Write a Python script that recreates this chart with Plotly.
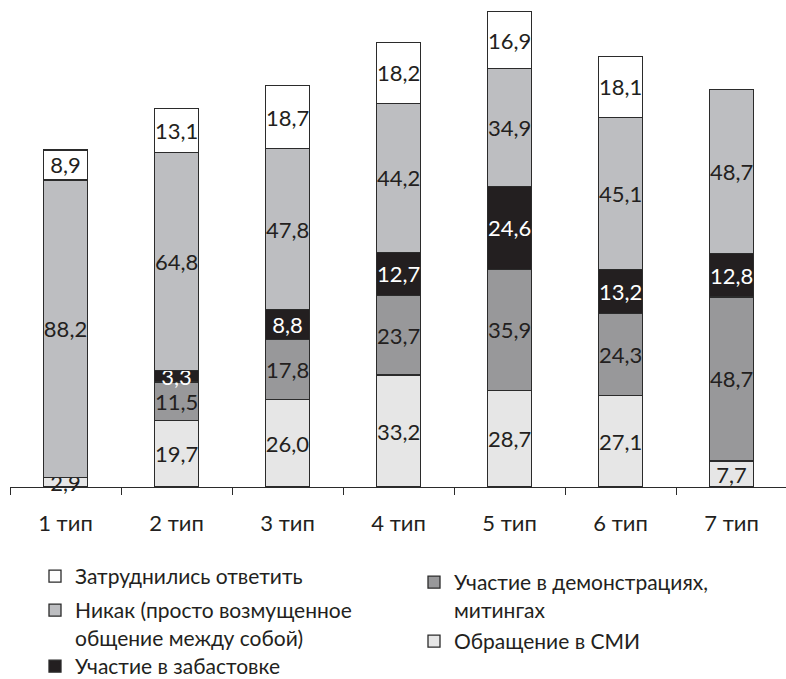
import plotly.graph_objects as go

categories = ["1 тип", "2 тип", "3 тип", "4 тип", "5 тип", "6 тип", "7 тип"]
smi = [2.9, 19.7, 26.0, 33.2, 28.7, 27.1, 7.7]
demo = [None, 11.5, 17.8, 23.7, 35.9, 24.3, 48.7]
strike = [None, 3.3, 8.8, 12.7, 24.6, 13.2, 12.8]
nikak = [88.2, 64.8, 47.8, 44.2, 34.9, 45.1, 48.7]
hard = [8.9, 13.1, 18.7, 18.2, 16.9, 18.1, None]

series = [
    ("Обращение в СМИ", smi, "#E6E6E6", "#231F20"),
    ("Участие в демонстрациях,<br>митингах", demo, "#98989A", "#231F20"),
    ("Участие в забастовке", strike, "#231F20", "#FFFFFF"),
    ("Никак (просто возмущенное<br>общение между собой)", nikak, "#BDBEC1", "#231F20"),
    ("Затруднились ответить", hard, "#FFFFFF", "#231F20"),
]

FONT = "Lato"
FS_LABEL = 22
FS_TICK = 22
FS_LEG = 21

W, H = 786, 679
L, R, T, B = 10, 0, 10, 192
pw = W - L - R
ph = H - T - B

def px2x(px):
    return (px - L) / pw

def py2y(py):
    return (H - B - py) / ph

legend_pos = {
    "Обращение в СМИ": (414, 621),
    "Участие в демонстрациях,<br>митингах": (414, 562),
    "Участие в забастовке": (35, 646),
    "Никак (просто возмущенное<br>общение между собой)": (35, 590),
    "Затруднились ответить": (35, 556),
}

fig = go.Figure()
layout_legends = {}
for i, (name, vals, color, tcolor) in enumerate(series):
    lname = "legend" if i == 0 else f"legend{i+1}"
    fig.add_trace(go.Bar(
        x=categories, y=vals, name=name,
        marker=dict(color=color, line=dict(color="#2B2B2B", width=1.3)),
        text=[("%.1f" % v).replace(".", ",") if v else "" for v in vals],
        textposition="inside", insidetextanchor="middle", textangle=0,
        constraintext="none",
        textfont=dict(family=FONT, size=FS_LABEL, color=tcolor),
        legend=lname, showlegend=True, cliponaxis=False,
    ))
    lx, ly = legend_pos[name]
    layout_legends[lname] = dict(
        x=px2x(lx), y=py2y(ly), xanchor="left", yanchor="top",
        font=dict(family=FONT, size=FS_LEG, color="#231F20"),
        bgcolor="rgba(0,0,0,0)", borderwidth=0, valign="top",
    )

fig.update_layout(
    width=W, height=H,
    margin=dict(l=L, r=R, t=T, b=B, autoexpand=False),
    barmode="stack", bargap=0.6,
    plot_bgcolor="white", paper_bgcolor="white",
    font=dict(family=FONT, size=FS_TICK, color="#231F20"),
    uniformtext=dict(mode="show", minsize=FS_LABEL),
    xaxis=dict(
        range=[-0.5, 6.49], showline=True, linecolor="#2B2B2B", linewidth=1.3,
        ticks="outside", tickson="boundaries", ticklen=7, tickcolor="#2B2B2B",
        tickwidth=1.3, showgrid=False,
        tickfont=dict(family=FONT, size=FS_TICK, color="#231F20"),
        ticklabelstandoff=16,
    ),
    yaxis=dict(range=[0, ph / 3.37], visible=False, showgrid=False),
    **layout_legends,
)

fig.write_html(
    "out.html",
    config={"displayModeBar": False},
    post_script="document.body.style.margin='0';",
)
